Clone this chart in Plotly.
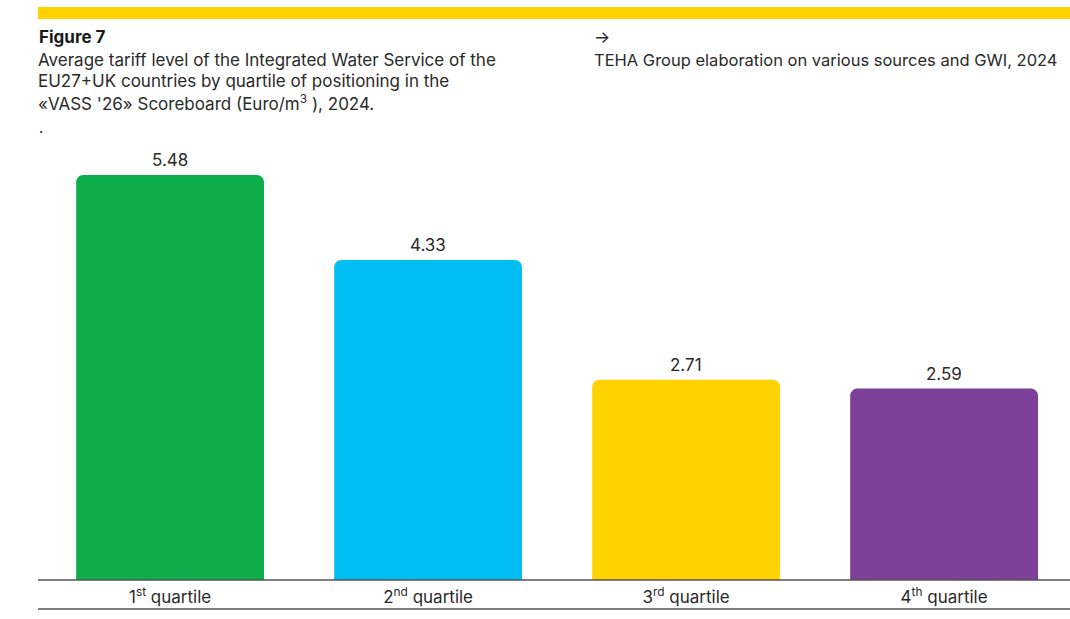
import plotly.graph_objects as go

# Quartile categories and average tariff values (Euro/m3)
categories = ["1<sup>st</sup> quartile", "2<sup>nd</sup> quartile",
              "3<sup>rd</sup> quartile", "4<sup>th</sup> quartile"]
tariffs = [5.48, 4.33, 2.71, 2.59]
bar_colors = ["#0EAD4B", "#00BDF2", "#FFD200", "#7D3F98"]

title_lines = [
    "Average tariff level of the Integrated Water Service of the",
    "EU27+UK countries by quartile of positioning in the",
    "«VASS '26» Scoreboard (Euro/m<sup>3</sup> ), 2024.",
]
source_text = "TEHA Group elaboration on various sources and GWI, 2024"

W, H = 1070, 619
ML, MR, MT, MB = 38, 0, 150, 39
PH = H - MT - MB
PW = W - ML - MR
FONT = "Inter, Liberation Sans, Arial, sans-serif"
TXT = "#2a2a2a"


def py(p):
    """pixel row -> paper y"""
    return (H - MB - p) / PH


def px(p):
    """pixel column -> paper x"""
    return (p - ML) / PW


fig = go.Figure(go.Bar(
    x=list(range(len(categories))),
    y=tariffs,
    marker=dict(color=bar_colors, line=dict(width=0)),
    width=0.728,
    hoverinfo="skip",
))

ymax = 5.48 * PH / 405

annotations = []
for i, v in enumerate(tariffs):
    annotations.append(dict(
        x=i, y=v, xref="x", yref="y", text=f"{v:.2f}", showarrow=False,
        yanchor="bottom", yshift=3, font=dict(family=FONT, size=17, color=TXT),
    ))

annotations.append(dict(
    x=px(37), y=py(37), xref="paper", yref="paper", text="<b>Figure 7</b>",
    showarrow=False, xanchor="left", yanchor="middle",
    font=dict(family=FONT, size=17, color="#1a1a1a"),
))
for k, line in enumerate(title_lines):
    annotations.append(dict(
        x=px(36), y=py(60 + 21.5 * k), xref="paper", yref="paper", text=line,
        showarrow=False, xanchor="left", yanchor="middle",
        font=dict(family=FONT, size=17, color=TXT),
    ))
annotations.append(dict(
    x=px(37), y=py(127), xref="paper", yref="paper", text=".",
    showarrow=False, xanchor="left", yanchor="middle",
    font=dict(family=FONT, size=15, color=TXT),
))
annotations.append(dict(
    x=px(592), y=py(37), xref="paper", yref="paper", text="→",
    showarrow=False, xanchor="left", yanchor="middle",
    font=dict(family=FONT, size=17, color=TXT),
))
annotations.append(dict(
    x=px(592), y=py(60), xref="paper", yref="paper", text=source_text,
    showarrow=False, xanchor="left", yanchor="middle",
    font=dict(family=FONT, size=16.5, color=TXT),
))

shapes = [
    # top yellow band
    dict(type="rect", xref="paper", yref="paper", x0=0, x1=1,
         y0=py(19), y1=py(7), fillcolor="#FFD200", line=dict(width=0), layer="above"),
    # baseline
    dict(type="line", xref="paper", yref="paper", x0=0, x1=1,
         y0=py(580), y1=py(580), line=dict(color="#555555", width=1.5), layer="above"),
    # bottom rule under the category labels
    dict(type="line", xref="paper", yref="paper", x0=0, x1=1,
         y0=py(609), y1=py(609), line=dict(color="#555555", width=1.5)),
]

fig.update_layout(
    width=W, height=H,
    margin=dict(l=ML, r=MR, t=MT, b=MB, pad=0),
    paper_bgcolor="white", plot_bgcolor="white",
    showlegend=False,
    barcornerradius=7,
    annotations=annotations,
    shapes=shapes,
    xaxis=dict(
        range=[-0.512, 3.488],
        tickmode="array", tickvals=list(range(len(categories))), ticktext=categories,
        showgrid=False, zeroline=False, showline=False, ticks="",
        ticklabelstandoff=5,
        tickfont=dict(family=FONT, size=17, color=TXT),
        fixedrange=True,
    ),
    yaxis=dict(range=[0, ymax], visible=False, fixedrange=True),
)

fig.write_html("out.html", config={"displayModeBar": False})
